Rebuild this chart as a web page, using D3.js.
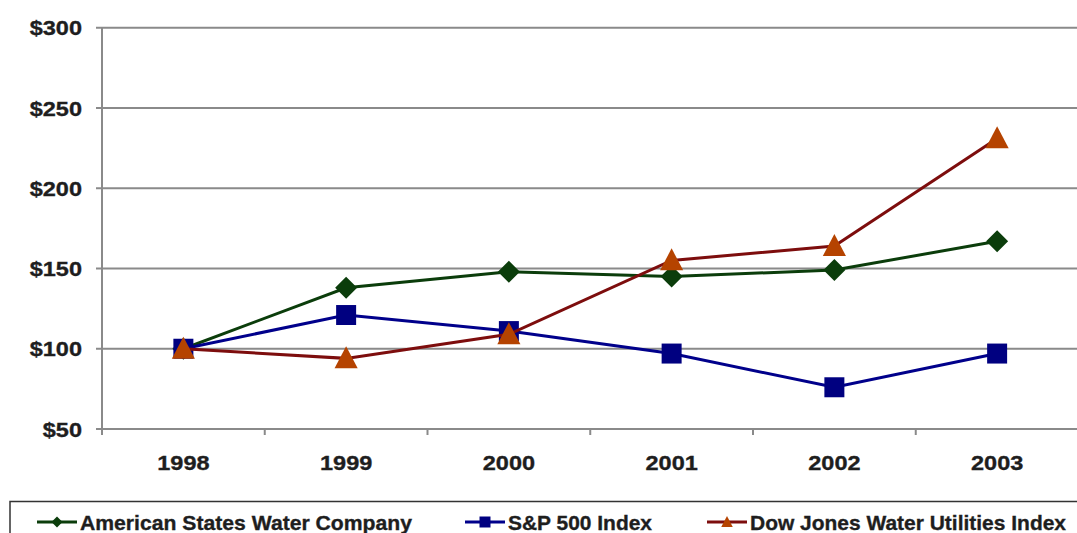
<html lang="en">
<head>
    <title>Total Return Comparison</title>
    <meta charset="utf-8">
    <script src="https://d3js.org/d3.v7.min.js"></script>
    <style>
        body { margin: 0; background: #fff; }
        text { font-family: "Liberation Sans", Arial, sans-serif; font-weight: bold; fill: #1e1e1e; stroke: #1e1e1e; stroke-width: 0.35px; }
    </style>
</head>
<body>
<svg class="chart"></svg>
<script>
    // data
    var years = ["1998", "1999", "2000", "2001", "2002", "2003"];
    var aswc = [100, 138, 148, 145, 149, 167];
    var sp500 = [100, 121, 111, 97, 76, 97];
    var djWater = [100, 94, 109, 155, 164, 231];
    var yTicks = [50, 100, 150, 200, 250, 300];

    var seriesNames = ["American States Water Company", "S&P 500 Index", "Dow Jones Water Utilities Index"];

    function show() {
        'use strict';

        var width = 1077, height = 533;
        var margin = {top: 27.7, left: 102, bottom: 104};
        var plotW = 6 * 162.75;

        var svg = d3.select(".chart")
            .attr("width", width)
            .attr("height", height);

        var x = d3.scaleBand()
            .domain(years)
            .range([margin.left, margin.left + plotW]);

        var y = d3.scaleLinear()
            .domain([50, 300])
            .range([height - margin.bottom, margin.top]);

        var stretch = 1.12;

        // gridlines
        svg.append("g").selectAll("line")
            .data(yTicks)
            .enter().append("line")
            .attr("x1", margin.left - 6)
            .attr("x2", margin.left + plotW)
            .attr("y1", function (d) { return y(d); })
            .attr("y2", function (d) { return y(d); })
            .attr("stroke", "#8a8a8a")
            .attr("stroke-width", 2);

        // y axis line
        svg.append("line")
            .attr("x1", margin.left).attr("x2", margin.left)
            .attr("y1", y(300)).attr("y2", y(50) + 6)
            .attr("stroke", "#8a8a8a")
            .attr("stroke-width", 2);

        // x tick marks between categories
        svg.append("g").selectAll("line")
            .data(years.slice(1))
            .enter().append("line")
            .attr("x1", function (d) { return x(d); })
            .attr("x2", function (d) { return x(d); })
            .attr("y1", y(50))
            .attr("y2", y(50) + 6)
            .attr("stroke", "#8a8a8a")
            .attr("stroke-width", 2);

        // y labels
        svg.append("g").selectAll("text")
            .data(yTicks)
            .enter().append("text")
            .attr("text-anchor", "end")
            .attr("dy", "0.36em")
            .style("font-size", "21px")
            .attr("transform", function (d) { return "translate(82," + y(d) + ") scale(" + stretch + ",1)"; })
            .text(function (d) { return "$" + d; });

        // x labels
        svg.append("g").selectAll("text")
            .data(years)
            .enter().append("text")
            .attr("text-anchor", "middle")
            .style("font-size", "21px")
            .attr("transform", function (d) { return "translate(" + (x(d) + x.bandwidth() / 2) + ",470) scale(" + stretch + ",1)"; })
            .text(function (d) { return d; });

        var cx = function (d, i) { return x(years[i]) + x.bandwidth() / 2; };
        var line = d3.line()
            .x(function (d, i) { return cx(d, i); })
            .y(function (d) { return y(d); });

        var series = [
            {name: seriesNames[0], values: aswc, line: "#0b3d0b", fill: "#0b3d0b", shape: "diamond"},
            {name: seriesNames[1], values: sp500, line: "#00008b", fill: "#000080", shape: "square"},
            {name: seriesNames[2], values: djWater, line: "#7d0d0d", fill: "#b54300", shape: "triangle"}
        ];

        function marker(shape, size) {
            if (shape === "diamond") {
                var h = size / 2;
                return "M0," + (-h) + "L" + h + ",0L0," + h + "L" + (-h) + ",0Z";
            }
            if (shape === "square") {
                var s = size / 2;
                return "M" + (-s) + "," + (-s) + "H" + s + "V" + s + "H" + (-s) + "Z";
            }
            var t = size / 2;
            return "M0," + (-t * 1.1) + "L" + (t * 1.05) + "," + (t * 0.9) + "L" + (-t * 1.05) + "," + (t * 0.9) + "Z";
        }

        var sizes = {diamond: 22, square: 20, triangle: 22};

        series.forEach(function (s) {
            var g = svg.append("g");
            g.append("path")
                .attr("d", line(s.values))
                .attr("fill", "none")
                .attr("stroke", s.line)
                .attr("stroke-width", 3);
            g.selectAll("path.pt")
                .data(s.values)
                .enter().append("path")
                .attr("class", "pt")
                .attr("transform", function (d, i) { return "translate(" + cx(d, i) + "," + y(d) + ")"; })
                .attr("d", marker(s.shape, sizes[s.shape]))
                .attr("fill", s.fill);
        });

        // legend
        var legend = svg.append("g");
        legend.append("rect")
            .attr("x", 10).attr("y", 501.5)
            .attr("width", 1100).attr("height", 60)
            .attr("fill", "none")
            .attr("stroke", "#333")
            .attr("stroke-width", 1.5);

        var legendX = [37, 465, 707];
        var legendTextW = [332, 144, 316];
        series.forEach(function (s, i) {
            var lg = legend.append("g").attr("transform", "translate(" + legendX[i] + ",522)");
            lg.append("line")
                .attr("x1", 0).attr("x2", 40)
                .attr("stroke", s.line)
                .attr("stroke-width", 3);
            lg.append("path")
                .attr("transform", "translate(20,0)")
                .attr("d", marker(s.shape, 11))
                .attr("fill", s.fill);
            lg.append("text")
                .attr("x", 43)
                .attr("dy", "0.36em")
                .style("font-size", "21px")
                .attr("textLength", legendTextW[i])
                .attr("lengthAdjust", "spacingAndGlyphs")
                .text(s.name);
        });
    }
    show();
</script>
</body>
</html>
